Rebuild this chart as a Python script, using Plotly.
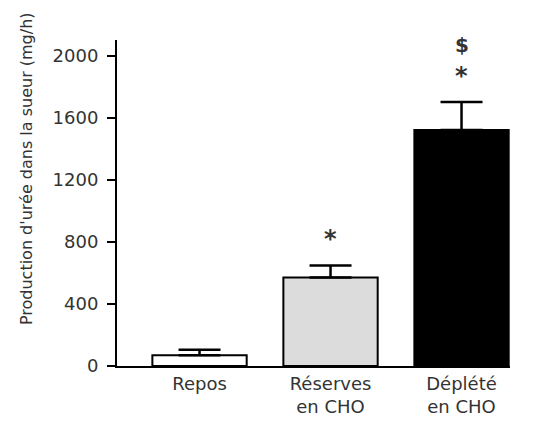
import plotly.graph_objects as go

categories = ["Repos", "Réserves<br>en CHO", "Déplété<br>en CHO"]
means = [70, 570, 1520]
sem = [35, 77, 180]
colors = ["#ffffff", "#dcdcdc", "#000000"]
tick_vals = [0, 400, 800, 1200, 1600, 2000]
marks = [("*", 1, 815), ("*", 2, 1868), ("$", 2, 2070)]
y_title = "Production d'urée dans la sueur (mg/h)"

FONT = "DejaVu Sans, Liberation Sans, Arial"

fig = go.Figure()
fig.add_trace(go.Bar(
    x=[0, 1, 2], y=means, width=0.72,
    marker=dict(color=colors, line=dict(color="#000000", width=2)),
    error_y=dict(type="data", array=sem, arrayminus=[0, 0, 0], symmetric=False,
                 color="#000000", thickness=2.5, width=21),
    showlegend=False,
))
for txt, xi, yi in marks:
    fig.add_annotation(x=xi, y=yi, text="<b>" + txt + "</b>", showarrow=False,
                       font=dict(family=FONT, size=24 if txt == "*" else 20, color="#333"))

fig.add_annotation(xref="paper", yref="paper", x=-0.2316, y=0.607, text=y_title, textangle=-90,
                   showarrow=False, xanchor="center", yanchor="middle",
                   font=dict(family=FONT, size=16, color="#333"))

fig.update_layout(
    width=536, height=424,
    margin=dict(l=109, r=34, t=32, b=66),
    plot_bgcolor="white", paper_bgcolor="white",
    font=dict(family=FONT, color="#222"),
)
fig.update_xaxes(
    range=[-0.63, 2.37], tickvals=[0, 1, 2], ticktext=categories,
    showline=True, linecolor="#000", linewidth=2, ticks="", showgrid=False,
    tickfont=dict(size=18, color="#333"), zeroline=False, automargin=False,
)
fig.update_yaxes(
    range=[0, 2100], tickvals=tick_vals, ticktext=[str(v) for v in tick_vals],
    showline=True, linecolor="#000", linewidth=2, ticks="outside", ticklen=8, tickwidth=2,
    tickcolor="#000", showgrid=False, zeroline=False, tickfont=dict(size=18, color="#333"),
    automargin=False, ticklabelstandoff=5,
)
fig.write_html("out.html")
